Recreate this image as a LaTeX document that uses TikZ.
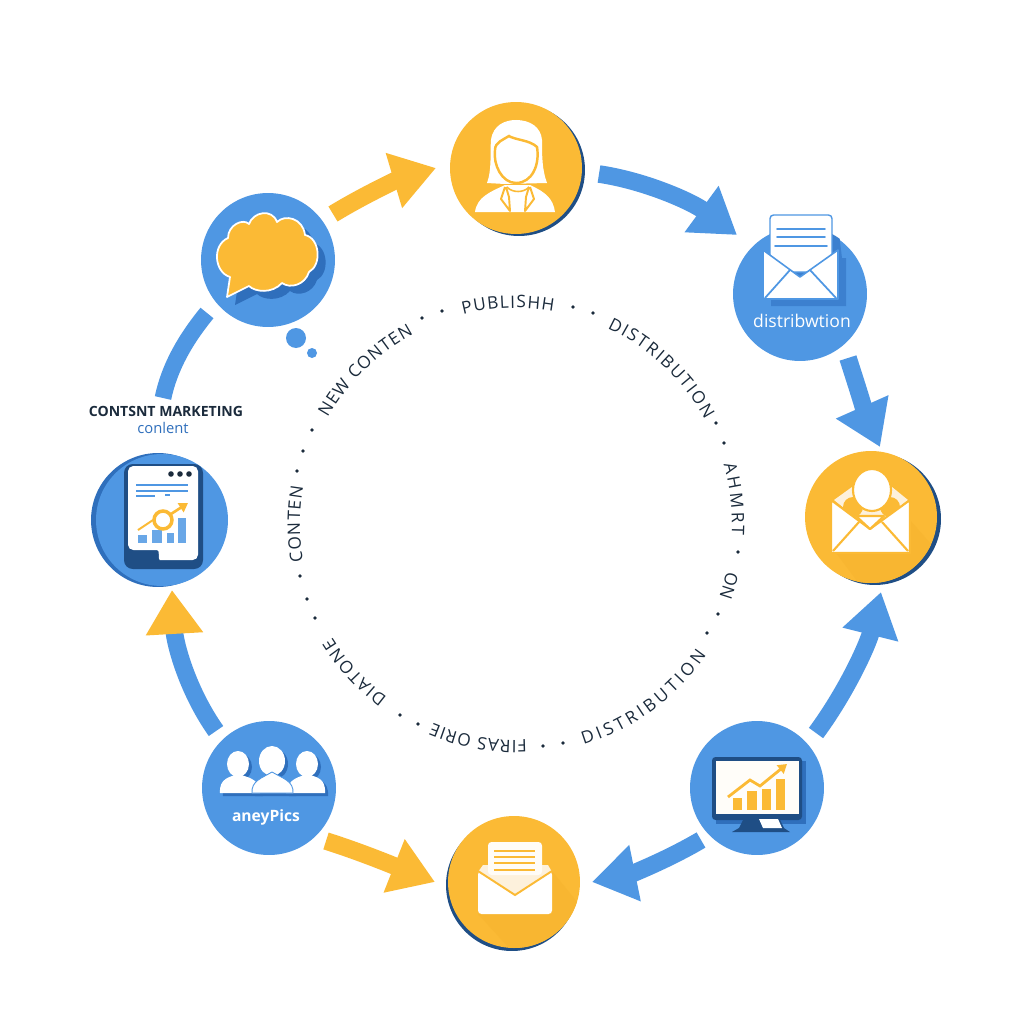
\documentclass[tikz,border=0pt]{standalone}
\usepackage{fontspec}
\setmainfont{Open Sans}
\usetikzlibrary{arrows.meta,decorations.text}
\definecolor{cblue}{HTML}{4F97E3}
\definecolor{cblued}{HTML}{2F6FBC}
\definecolor{cbluem}{HTML}{3C80CF}
\definecolor{cnavy}{HTML}{1F4E85}
\definecolor{cyel}{HTML}{FBBA35}
\definecolor{cyeld}{HTML}{F8B631}
\definecolor{ccream}{HTML}{FDF1DC}
\definecolor{cink}{HTML}{1B2B3C}
\tikzset{
  bluedisc/.style={circle,fill=cblue,inner sep=0pt,minimum size=2.68cm},
  yeldisc/.style={circle,fill=cyel,inner sep=0pt,minimum size=2.64cm},
  shadedisc/.style={circle,fill=cnavy,inner sep=0pt,minimum size=2.64cm},
  flowblue/.style={draw=cblue,line width=10pt,-{Triangle[length=25pt,width=31pt,fill=cblue,color=cblue]}},
  flowyel/.style={draw=cyel,line width=10pt,-{Triangle[length=25pt,width=31pt,fill=cyel,color=cyel]}},
  flowmix/.style={draw=cblue,line width=10pt,-{Triangle[length=25pt,width=31pt,fill=cyel,color=cyel]}},
  flowplain/.style={draw=cblue,line width=9.5pt},
  thinline/.style={line width=1pt,line cap=round},
  ringdot/.style={circle,fill=cink,inner sep=0pt,minimum size=2.1pt},
}
\newcommand\ringfont{\fontsize{9.8}{10}\selectfont\color{cink}}
\newcommand\ringtext[4]{\path[decorate,decoration={text along path,text={|\ringfont|#4},text align={fit to path}}]
  ([shift={(516,524)}]#1:#3) arc[start angle=#1,end angle=#2,radius=#3];}
\begin{document}
\begin{tikzpicture}[x=0.02cm,y=-0.02cm]
\useasboundingbox (0,0) rectangle (1024,1024);
\fill[white] (0,0) rectangle (1024,1024);

% shadows and discs
\node[shadedisc] (sTop) at (519,170) {};
\node[yeldisc] (nTop) at (516,168) {};
\node[bluedisc] (nTR) at (800,294) {};
\node[shadedisc] (sR) at (875,519) {};
\node[yeldisc] (nR) at (871,517) {};
\node[bluedisc] (nBR) at (757,788) {};
\node[shadedisc] (sB) at (512,885) {};
\node[yeldisc] (nB) at (514,882) {};
\node[bluedisc] (nBL) at (269,788) {};
\node[circle,fill=cblued,inner sep=0pt,minimum size=2.68cm] (sL) at (158,520) {};
\node[circle,fill=cblue,inner sep=0pt,minimum size=2.64cm] (nL) at (162,520) {};
\node[bluedisc] (nTL) at (268,260) {};
\node[circle,fill=cblue,inner sep=0pt,minimum size=0.40cm] (b1) at (296,338) {};
\node[circle,fill=cblue,inner sep=0pt,minimum size=0.20cm] (b2) at (312,353) {};

% connectors
\coordinate (a1s) at (333,214); \coordinate (a1e) at (436,168);
\coordinate (a2s) at (599,174); \coordinate (a2e) at (737,235);
\coordinate (a3s) at (848,358); \coordinate (a3e) at (880,447);
\coordinate (a4s) at (816,733); \coordinate (a4e) at (881,592);
\coordinate (a5s) at (701,840); \coordinate (a5e) at (592,882);
\coordinate (a6s) at (326,841); \coordinate (a6e) at (435,882);
\coordinate (a7s) at (216,731); \coordinate (a7e) at (172,590);
\coordinate (a8s) at (207,313); \coordinate (a8e) at (163,398);
\draw[flowyel] (a1s) .. controls (364,195) and (399,179) .. (a1e);
\draw[flowblue] (a2s) .. controls (646,181) and (692,202) .. (a2e);
\draw[flowblue] (a3s) .. controls (855,380) and (868,420) .. (a3e);
\draw[flowblue] (a4s) .. controls (847,691) and (868,644) .. (a4e);
\draw[flowblue] (a5s) .. controls (667,860) and (631,874) .. (a5e);
\draw[flowyel] (a6s) .. controls (361,852) and (397,867) .. (a6e);
\draw[flowmix] (a7s) .. controls (187,690) and (175,643) .. (a7e);
\draw[flowplain] (a8s) .. controls (184,341) and (169,369) .. (a8e);

% ring text
\ringtext{-104.2}{-80}{216}{PUBLISHH}
\ringtext{-65}{-29}{216}{DISTRIBUTION}
\ringtext{-150.6}{-118.3}{216}{NEW CONTEN}
\ringtext{170}{190}{216}{CONTEN}
\ringtext{-16}{3}{216}{AHMRT}
\ringtext{12.8}{18.7}{216}{ON}
\ringtext{87.2}{112.7}{216}{FIRAS ORIE}
\ringtext{126.6}{148.3}{216}{DIATONE}
\ringtext{73}{34.5}{231}{DISTRIBUTION}
\foreach \p/\q in {442/311,422/318,573/307,593/313,716/423,724/443,312/430,303/451,297/471,300/576,307/599,315/618,400/715,418/724,543/746,563/743,707/633,718/614,738/552}
  \node[ringdot] at (\p,\q) {};

% side labels
\node[font=\bfseries\fontsize{8}{9}\selectfont,text=cink,inner sep=0pt] (lab1) at (166,411) {CONTSNT MARKETING};
\node[font=\fontsize{8.4}{9}\selectfont,text=cblued,inner sep=0pt] (lab2) at (163,428) {conlent};
\node[font=\fontsize{10}{11}\selectfont,text=white,inner sep=0pt] (lab3) at (802,321) {distribwtion};
\node[font=\bfseries\fontsize{8.9}{10}\selectfont,text=white,inner sep=0pt] (lab4) at (266,817) {aneyPics};

% icon: woman
\fill[white] (487,183) .. controls (492,170) and (490,150) .. (491,140) .. controls (493,125) and (505,120) .. (516,120) .. controls (530,120) and (541,127) .. (542,140) .. controls (542,155) and (542,170) .. (547,183) -- (505,184) -- cycle;
\fill[white] (475,212) .. controls (477,197) and (490,192) .. (505,185) -- (530,185) .. controls (545,192) and (553,198) .. (555,212) -- cycle;
\filldraw[fill=white,draw=cyel,line width=1.4pt] (495,150) .. controls (495,142) and (503,140) .. (509,136) .. controls (515,140) and (530,140) .. (537,147) .. controls (540,165) and (532,183) .. (516,183) .. controls (502,183) and (493,165) .. (495,150) -- cycle;
\draw[cyel,line width=1.1pt,line join=round] (505,187) -- (501,199) -- (510,211) -- (509,197) -- (506,187);
\draw[cyel,line width=1.1pt,line join=round] (530,187) -- (534,199) -- (525,211) -- (526,197) -- (529,187);
\draw[cyel,line width=0.9pt] (507,187) .. controls (512,193) and (524,193) .. (529,187);

% icon: envelope with letter (blue)
\begin{scope}
\clip (nTR) circle (68);
\fill[cbluem] (838,225) -- (842,258) -- (846,258) -- (846,306) -- (771,306) -- (771,250) -- cycle;
\end{scope}
\filldraw[fill=white,draw=cblue,line width=0.8pt,rounded corners=2pt] (770,215) rectangle (832,272);
\draw[cblue,thinline] (777,229) -- (825,229) (777,237) -- (825,237) (775,246) -- (827,246);
\filldraw[fill=white,draw=cblue,line width=0.9pt,line join=round] (763,250) -- (800,277) -- (838,250) -- (838,299) -- (763,299) -- cycle;
\draw[cblue,thinline] (765,298) -- (790,270) (836,298) -- (810,270);

% icon: envelope with person (yellow)
\begin{scope}
\clip (nR) circle (66);
\fill[cyeld] (836,553) -- (910,553) -- (910,520) -- (945,560) -- (900,600) -- (860,585) -- cycle;
\end{scope}
\fill[ccream] (834,500) -- (852,487) -- (892,487) -- (908,500) -- (870,529) -- cycle;
\fill[cyel] (853,507) circle (10);
\fill[cyel] (890,507) circle (10);
\filldraw[fill=white,draw=cyel,line width=1.2pt] (872,490) ellipse (19 and 21);
\filldraw[fill=white,draw=cyel,line width=1.2pt,line join=round] (831,500) -- (870,529) -- (910,500) -- (910,553) -- (831,553) -- cycle;
\filldraw[fill=white,draw=cyel,line width=1.2pt,line join=round] (856,516) -- (884,516) -- (870,529) -- cycle;
\draw[cyel,line width=1.2pt] (833,551) -- (859,522) (908,551) -- (882,522);

% icon: monitor with chart
\fill[cblued] (716,761) rectangle (806,824);
\fill[cnavy] (743,820) -- (780,820) -- (784,828) -- (790,832) -- (732,832) -- (739,828) -- cycle;
\filldraw[fill=cnavy,rounded corners=2pt,draw=none] (712,757) rectangle (802,820);
\fill[white!97!cyel] (716,761) rectangle (799,814);
\fill[white] (759,819) -- (778,819) -- (782,828) -- (763,828) -- cycle;
\fill[cyel] (733,798) rectangle (742,810);
\fill[cyel] (747,791) rectangle (757,810);
\fill[cyel] (762,789) rectangle (771,810);
\fill[cyel] (776,779) rectangle (785,810);
\draw[cyel,line width=1.6pt,-{Triangle[length=5pt,width=6pt]}] (728,797) -- (750,780) -- (760,786) -- (787,764);

% icon: envelope with letter (yellow)
\begin{scope}
\clip (nB) circle (66);
\fill[cyeld] (478,914) -- (552,914) -- (552,871) -- (600,930) -- (520,960) -- cycle;
\end{scope}
\fill[ccream] (483,865) -- (548,865) -- (552,872) -- (515,895) -- (478,872) -- cycle;
\fill[white!96!cyel,rounded corners=2pt] (488,842) rectangle (542,875);
\draw[cyel,line width=1.1pt] (494,851) -- (535,851) (494,857) -- (535,857) (494,863) -- (535,863) (494,870) -- (535,870);
\filldraw[fill=white,draw=none,rounded corners=2pt] (478,871) -- (515,896) -- (552,871) -- (552,914) -- (478,914) -- cycle;
\draw[cyel,line width=1.1pt] (478,871) -- (515,895) -- (552,871);

% icon: three people
\begin{scope}[shift={(3,3)},cblued]
\fill (238,764) ellipse (11 and 13);
\fill (307,764) ellipse (11 and 13);
\fill (272,761) ellipse (13 and 15);
\fill (220,793) .. controls (219,778) and (230,777) .. (238,774) .. controls (246,777) and (260,778) .. (260,793) -- cycle;
\fill (286,793) .. controls (288,778) and (300,777) .. (307,774) .. controls (316,777) and (326,778) .. (325,793) -- cycle;
\fill (252,793) .. controls (251,781) and (262,778) .. (272,772) .. controls (282,778) and (294,781) .. (293,793) -- cycle;
\end{scope}
\fill[white] (238,764) ellipse (11 and 13);
\fill[white] (307,764) ellipse (11 and 13);
\fill[white] (272,761) ellipse (13 and 15);
\fill[white] (220,793) .. controls (219,778) and (230,777) .. (238,774) .. controls (246,777) and (260,778) .. (260,793) -- cycle;
\fill[white] (286,793) .. controls (288,778) and (300,777) .. (307,774) .. controls (316,777) and (326,778) .. (325,793) -- cycle;
\filldraw[fill=white,draw=cblue,line width=0.5pt] (252,793) .. controls (251,781) and (262,778) .. (272,772) .. controls (282,778) and (294,781) .. (293,793) -- cycle;

% icon: tablet
\fill[cnavy,rounded corners=5pt] (124,464) rectangle (203,569);
\fill[white,rounded corners=3pt] (128,466) -- (198,466) -- (198,560) -- (165,560) .. controls (158,560) and (160,550) .. (152,550) -- (128,550) -- cycle;
\fill[cink] (171,474) circle (2.8) (180,474) circle (2.8) (189,474) circle (2.8);
\draw[cblue,line width=1.1pt] (136,485) -- (188,485) (136,491) -- (188,491) (136,496) -- (155,496) (165,495) -- (170,495);
\fill[cblue!85!white] (138,535) rectangle (147,543);
\fill[cblue!85!white] (152,530) rectangle (162,543);
\fill[cblue!85!white] (167,533) rectangle (174,543);
\fill[cblue!85!white] (178,518) rectangle (186,543);
\draw[cyel,line width=1.1pt] (138,530) -- (153,520);
\draw[cyel,line width=2pt] (163,520) circle (9);
\draw[cyel,line width=1.5pt,-{Triangle[length=5pt,width=6pt]}] (171,514) -- (188,503);

% icon: speech cloud
\fill[cblued] (235,305) -- (238,285) .. controls (222,280) and (220,253) .. (236,246) .. controls (236,233) and (251,226) .. (257,232) .. controls (261,220) and (280,216) .. (285,230) .. controls (293,222) and (311,226) .. (313,243) .. controls (328,246) and (330,273) .. (317,280) .. controls (313,293) and (298,297) .. (290,291) .. controls (280,302) and (263,300) .. (257,294) -- cycle;
\filldraw[fill=cyel,draw=white,line width=1pt,line join=round] (227,297) -- (230,277) .. controls (214,272) and (212,245) .. (228,238) .. controls (228,225) and (243,218) .. (249,224) .. controls (253,212) and (272,208) .. (277,222) .. controls (285,214) and (303,218) .. (305,235) .. controls (320,238) and (322,265) .. (309,272) .. controls (305,285) and (290,289) .. (282,283) .. controls (272,294) and (255,292) .. (249,286) -- cycle;
\end{tikzpicture}
\end{document}
